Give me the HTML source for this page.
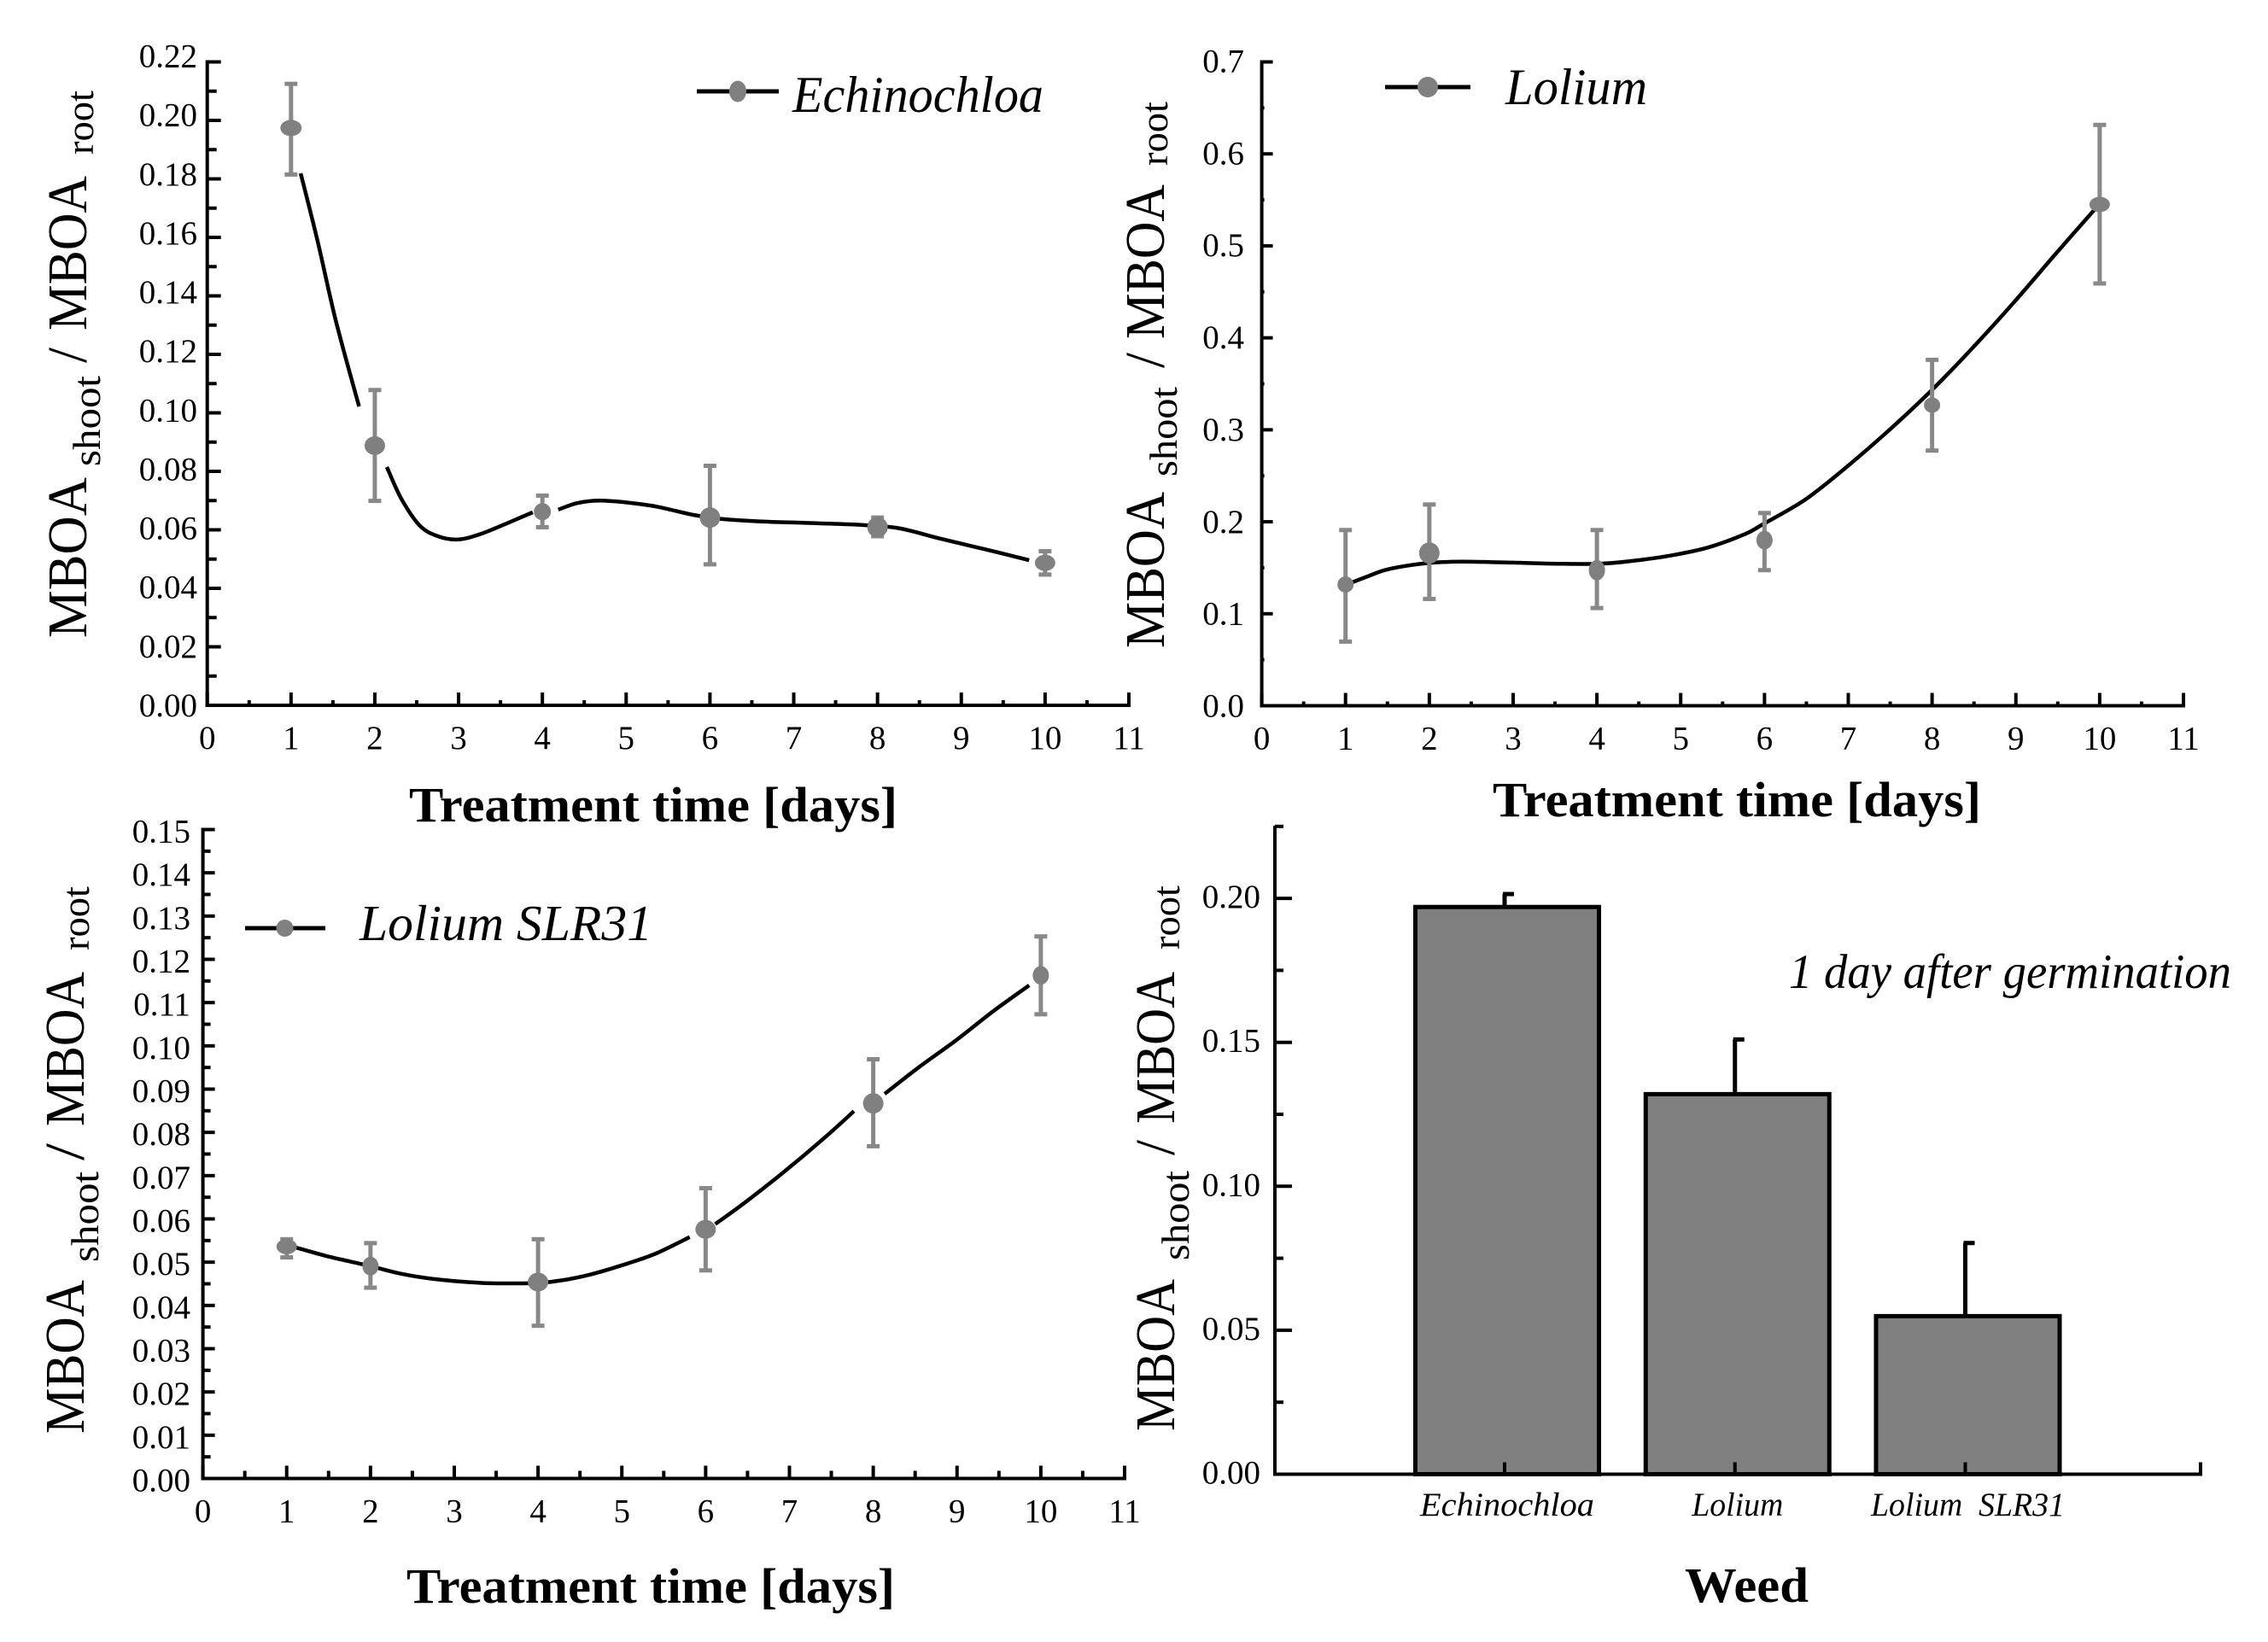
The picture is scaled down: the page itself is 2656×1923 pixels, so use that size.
<!DOCTYPE html>
<html lang="en">
<head>
<meta charset="utf-8">
<title>MBOA shoot / root ratio charts</title>
<style>
html,body{margin:0;padding:0;background:#fff;}
svg{display:block;}
text{font-family:"Liberation Serif",serif;fill:#000;}
.tick{font-size:39px;}
.big{font-size:66px;}
.sub{font-size:45px;}
.xt{font-size:58px;font-weight:bold;}
.leg{font-size:60px;font-style:italic;}
.cat{font-size:39px;font-style:italic;}
</style>
</head>
<body>
<svg id="figure" xmlns="http://www.w3.org/2000/svg" width="2656" height="1923" viewBox="0 0 2656 1923">
  <rect x="0" y="0" width="2656" height="1923" fill="#fff"/>

  <g>
    <text class="big" transform="translate(101,747) rotate(-90)" textLength="188" lengthAdjust="spacingAndGlyphs">MBOA</text>
    <text class="sub" transform="translate(117,546) rotate(-90)" textLength="106" lengthAdjust="spacingAndGlyphs">shoot</text>
    <text class="big" transform="translate(101,425) rotate(-90)" textLength="18" lengthAdjust="spacingAndGlyphs">/</text>
    <text class="big" transform="translate(101,387) rotate(-90)" textLength="181" lengthAdjust="spacingAndGlyphs">MBOA</text>
    <text class="sub" transform="translate(109,181) rotate(-90)" textLength="75" lengthAdjust="spacingAndGlyphs">root</text>
  </g>
  <text class="xt" x="479" y="962" textLength="572" lengthAdjust="spacingAndGlyphs">Treatment time [days]</text>
  <g>
    <line x1="816" y1="107" x2="912" y2="107" stroke="#000" stroke-width="5"/>
    <ellipse cx="864" cy="107" rx="10" ry="12.5" fill="#808080"/>
    <text class="leg" x="928" y="131" textLength="294" lengthAdjust="spacingAndGlyphs">Echinochloa</text>
  </g>

  <g>
    <text class="big" transform="translate(1363,759) rotate(-90)" textLength="183" lengthAdjust="spacingAndGlyphs">MBOA</text>
    <text class="sub" transform="translate(1378,558) rotate(-90)" textLength="105" lengthAdjust="spacingAndGlyphs">shoot</text>
    <text class="big" transform="translate(1363,431) rotate(-90)" textLength="18" lengthAdjust="spacingAndGlyphs">/</text>
    <text class="big" transform="translate(1363,397) rotate(-90)" textLength="181" lengthAdjust="spacingAndGlyphs">MBOA</text>
    <text class="sub" transform="translate(1367,194) rotate(-90)" textLength="75" lengthAdjust="spacingAndGlyphs">root</text>
  </g>
  <text class="xt" x="1748" y="956" textLength="572" lengthAdjust="spacingAndGlyphs">Treatment time [days]</text>
  <g>
    <line x1="1622" y1="102" x2="1722" y2="102" stroke="#000" stroke-width="5"/>
    <ellipse cx="1672" cy="102" rx="12" ry="12" fill="#808080"/>
    <text class="leg" x="1763" y="122" textLength="166" lengthAdjust="spacingAndGlyphs">Lolium</text>
  </g>

  <g>
    <text class="big" transform="translate(98,1679) rotate(-90)" textLength="180" lengthAdjust="spacingAndGlyphs">MBOA</text>
    <text class="sub" transform="translate(115,1478) rotate(-90)" textLength="106" lengthAdjust="spacingAndGlyphs">shoot</text>
    <text class="big" transform="translate(98,1359) rotate(-90)" textLength="20" lengthAdjust="spacingAndGlyphs">/</text>
    <text class="big" transform="translate(98,1319) rotate(-90)" textLength="181" lengthAdjust="spacingAndGlyphs">MBOA</text>
    <text class="sub" transform="translate(104,1113) rotate(-90)" textLength="75" lengthAdjust="spacingAndGlyphs">root</text>
  </g>
  <text class="xt" x="476" y="1877" textLength="572" lengthAdjust="spacingAndGlyphs">Treatment time [days]</text>
  <g>
    <line x1="287" y1="1087" x2="381" y2="1087" stroke="#000" stroke-width="5"/>
    <ellipse cx="333.5" cy="1087" rx="10" ry="10" fill="#808080"/>
    <text class="leg" style="font-size:59px" x="421" y="1101" textLength="343" lengthAdjust="spacingAndGlyphs">Lolium SLR31</text>
  </g>

  <g>
    <text class="big" transform="translate(1375,1676) rotate(-90)" textLength="178" lengthAdjust="spacingAndGlyphs">MBOA</text>
    <text class="sub" transform="translate(1392,1476) rotate(-90)" textLength="105" lengthAdjust="spacingAndGlyphs">shoot</text>
    <text class="big" transform="translate(1375,1353) rotate(-90)" textLength="18" lengthAdjust="spacingAndGlyphs">/</text>
    <text class="big" transform="translate(1375,1316) rotate(-90)" textLength="178" lengthAdjust="spacingAndGlyphs">MBOA</text>
    <text class="sub" transform="translate(1381,1112) rotate(-90)" textLength="75" lengthAdjust="spacingAndGlyphs">root</text>
  </g>
  <text class="xt" x="1973" y="1876" textLength="145" lengthAdjust="spacingAndGlyphs">Weed</text>
  <text class="leg" style="font-size:57px" x="2095" y="1157" textLength="518" lengthAdjust="spacingAndGlyphs">1 day after germination</text>
</svg>

<script>
// ---------- data ----------
const days = [1, 2, 4, 6, 8, 10];

const echinoMean  = [0.1974, 0.0888, 0.0662, 0.0642, 0.0609, 0.0487];
const echinoUpper = [0.2125, 0.1078, 0.0717, 0.0819, 0.0642, 0.0527];
const echinoLower = [0.1815, 0.0699, 0.0609, 0.0482, 0.0578, 0.0447];
const echinoCurveDays  = [1.115, 1.315, 1.533, 1.812, null, 2.143, 2.317, 2.535, 2.753, 2.997, 3.275, 3.624, 3.885, null, 4.19, 4.41, 4.67, 5.02, 5.37, 5.80, 6.11, 6.59, 7.11, 7.72, 8.24, 8.76, 9.29, 9.81];
const echinoCurveRatio = [0.1819, 0.159, 0.1317, 0.1022, null, 0.0815, 0.0706, 0.0615, 0.0578, 0.0567, 0.0587, 0.0628, 0.0660, null, 0.0669, 0.0691, 0.0700, 0.0693, 0.0679, 0.0651, 0.0638, 0.0629, 0.0624, 0.0618, 0.0606, 0.0569, 0.0533, 0.0496];

const loliumMean  = [0.1318, 0.166, 0.1474, 0.18, 0.3268, 0.545];
const loliumUpper = [0.191, 0.2188, 0.191, 0.2095, 0.3761, 0.6315];
const loliumLower = [0.0697, 0.1161, 0.1062, 0.1474, 0.2774, 0.4591];
const loliumCurveDays  = [0.981, 1.259, 1.519, 1.970, 2.387, 2.995, 3.516, 4.036, 4.470, 4.905, 5.339, 5.773, 5.981, 6.467, 6.901, 7.422, 7.969, 8.464, 8.984, 9.505, 9.983];
const loliumCurveRatio = [0.1306, 0.1405, 0.1486, 0.1550, 0.1567, 0.1556, 0.1544, 0.1544, 0.1579, 0.1637, 0.1724, 0.1869, 0.1973, 0.2229, 0.2536, 0.2943, 0.3407, 0.3871, 0.4394, 0.4945, 0.5439];

const slrMean  = [0.0536, 0.0491, 0.0454, 0.0576, 0.0867, 0.1163];
const slrUpper = [0.0553, 0.0544, 0.0553, 0.0671, 0.0969, 0.1253];
const slrLower = [0.0511, 0.0441, 0.0353, 0.0481, 0.0768, 0.1073];
const slrCurveDays  = [1.106, 1.498, 1.995, 2.369, 2.805, 3.328, 3.676, 4.007, 4.286, 4.634, 5.070, 5.418, 5.810, null, 6.115, 6.463, 6.899, 7.422, 7.770, null, 8.136, 8.554, 8.990, 9.425, 9.861];
const slrCurveRatio = [0.0534, 0.0513, 0.0491, 0.0473, 0.0460, 0.0452, 0.0451, 0.0452, 0.0458, 0.0472, 0.0497, 0.0521, 0.0558, null, 0.0588, 0.0637, 0.0703, 0.0788, 0.0849, null, 0.0889, 0.0952, 0.1013, 0.1079, 0.1140];

const xTickLabels = ['0','1','2','3','4','5','6','7','8','9','10','11'];
const echinoYTickLabels = ['0.00','0.02','0.04','0.06','0.08','0.10','0.12','0.14','0.16','0.18','0.20','0.22'];
const loliumYTickLabels = ['0.0','0.1','0.2','0.3','0.4','0.5','0.6','0.7'];
const slrYTickLabels = ['0.00','0.01','0.02','0.03','0.04','0.05','0.06','0.07','0.08','0.09','0.10','0.11','0.12','0.13','0.14','0.15'];

const barCategories = ['Echinochloa', 'Lolium', 'Lolium  SLR31'];
const barValues = [0.197, 0.132, 0.0549];
const barErrors = [0.2015, 0.151, 0.0803];
const barYTickLabels = ['0.00','0.05','0.10','0.15','0.20'];

// ---------- helpers ----------
const svg = document.getElementById('figure');
const NS = 'http://www.w3.org/2000/svg';

function make(tag, attrs, parent) {
  const el = document.createElementNS(NS, tag);
  for (const k in attrs) el.setAttribute(k, attrs[k]);
  parent.appendChild(el);
  return el;
}

function line(parent, x1, y1, x2, y2, color, width) {
  return make('line', {x1: x1, y1: y1, x2: x2, y2: y2, stroke: color, 'stroke-width': width}, parent);
}

function curvePath(xs, ys) {
  // Catmull-Rom through the sampled points; null starts a new stretch
  let d = '';
  let run = [];
  const flush = function () {
    if (run.length < 2) { run = []; return; }
    d += 'M' + run[0][0].toFixed(1) + ' ' + run[0][1].toFixed(1);
    for (let i = 0; i < run.length - 1; i++) {
      const p0 = run[Math.max(i - 1, 0)];
      const p1 = run[i];
      const p2 = run[i + 1];
      const p3 = run[Math.min(i + 2, run.length - 1)];
      d += 'C' + (p1[0] + (p2[0] - p0[0]) / 6).toFixed(1) + ' ' + (p1[1] + (p2[1] - p0[1]) / 6).toFixed(1) +
           ' ' + (p2[0] - (p3[0] - p1[0]) / 6).toFixed(1) + ' ' + (p2[1] - (p3[1] - p1[1]) / 6).toFixed(1) +
           ' ' + p2[0].toFixed(1) + ' ' + p2[1].toFixed(1);
    }
    run = [];
  };
  xs.forEach(function (x, i) {
    if (x === null) { flush(); } else { run.push([x, ys[i]]); }
  });
  flush();
  return d;
}

function drawLinePanel(cfg) {
  const g = make('g', {}, svg);
  
  
  const sx = function (v) { return cfg.x0 + (cfg.x1 - cfg.x0) * v / 11; };
  const sy = function (v) { return cfg.y0 + (cfg.yTop - cfg.y0) * v / cfg.yMax; };

  // axes
  const yAxis = line(g, cfg.x0, cfg.y0 + 2, cfg.x0, cfg.yTop - 2, '#000', 4);
  
  
  const xAxis = line(g, cfg.x0 - 2, cfg.y0, cfg.x1 + 2, cfg.y0, '#000', 4);
  
  

  // x ticks
  xTickLabels.forEach(function (label, i) {
    const t = line(g, sx(i), cfg.y0, sx(i), cfg.y0 - 15, '#000', 4);
    
    
    if (i < 11) {
      const m = line(g, sx(i + 0.5), cfg.y0, sx(i + 0.5), cfg.y0 - cfg.xMinorLen, '#000', 4);
      
      
    }
    const lab = make('text', {x: sx(i), y: cfg.y0 + 51, 'text-anchor': 'middle', 'class': 'tick'}, g);
    lab.textContent = label;
    
    
  });

  // y ticks
  const last = cfg.yLabels.length - 1;
  const step = cfg.yMax / last;
  cfg.yLabels.forEach(function (label, i) {
    const v = step * i;
    const t = line(g, cfg.x0, sy(v), cfg.x0 + cfg.majorLen, sy(v), '#000', 4);
    
    
    if (i < last) {
      const m = line(g, cfg.x0, sy(v + step / 2), cfg.x0 + cfg.minorLen, sy(v + step / 2), '#000', 4);
      
      
    }
    const drop = cfg.labelDropBottom + (cfg.labelDropTop - cfg.labelDropBottom) * i / last;
    const lab = make('text', {x: cfg.labelX, y: sy(v) + drop, 'text-anchor': 'end', 'class': 'tick'}, g);
    lab.textContent = label;
    
    
  });

  // fitted curve
  const path = make('path', {
    d: curvePath(cfg.curveX.map(function (v) { return v === null ? null : sx(v); }),
                 cfg.curveY.map(function (v) { return v === null ? null : sy(v); })),
    fill: 'none', stroke: '#000', 'stroke-width': 4.5
  }, g);
  
  

  // error bars and points
  days.forEach(function (d, i) {
    const x = sx(d);
    const stem = line(g, x, sy(cfg.upper[i]), x, sy(cfg.lower[i]), '#888', 5);
    
    
    const capT = line(g, x - 7.5, sy(cfg.upper[i]), x + 7.5, sy(cfg.upper[i]), '#888', 5);
    
    
    const capB = line(g, x - 7.5, sy(cfg.lower[i]), x + 7.5, sy(cfg.lower[i]), '#888', 5);
    
    
    const pt = make('ellipse', {cx: x, cy: sy(cfg.mean[i]), rx: cfg.rx[i], ry: cfg.ry[i], fill: '#808080'}, g);
    
    
  });
}

drawLinePanel({name: 'echinochloa', x0: 242.7, x1: 1322, y0: 826, yTop: 72.5, yMax: 0.22,
  yLabels: echinoYTickLabels, labelX: 231, majorLen: 16, minorLen: 11, xMinorLen: 6,
  labelDropBottom: 13, labelDropTop: 6,
  rx: [12.5, 12, 10, 12, 12, 12], ry: [9.5, 11, 10, 12, 12, 9.5],
  mean: echinoMean, upper: echinoUpper, lower: echinoLower,
  curveX: echinoCurveDays, curveY: echinoCurveRatio});

drawLinePanel({name: 'lolium', x0: 1477.6, x1: 2557, y0: 826.5, yTop: 72.5, yMax: 0.7,
  yLabels: loliumYTickLabels, labelX: 1457, majorLen: 13, minorLen: 3, xMinorLen: 5,
  labelDropBottom: 13, labelDropTop: 12,
  rx: [9.5, 12, 9.5, 9.5, 9.5, 12], ry: [9.5, 12.5, 12, 11, 9, 9],
  mean: loliumMean, upper: loliumUpper, lower: loliumLower,
  curveX: loliumCurveDays, curveY: loliumCurveRatio});

drawLinePanel({name: 'lolium-slr31', x0: 237.6, x1: 1317, y0: 1731.5, yTop: 971.5, yMax: 0.15,
  yLabels: slrYTickLabels, labelX: 223, majorLen: 14, minorLen: 9, xMinorLen: 9,
  labelDropBottom: 15, labelDropTop: 15,
  rx: [12, 9.5, 12, 12, 12, 9.5], ry: [9, 11, 11, 11, 12, 11],
  mean: slrMean, upper: slrUpper, lower: slrLower,
  curveX: slrCurveDays, curveY: slrCurveRatio});

// ---------- bar panel ----------
(function () {
  const g = make('g', {}, svg);
  
  
  const x0 = 1493, xEnd = 2577, y0 = 1726.5, pxPerUnit = 3372;
  const sy = function (v) { return y0 - v * pxPerUnit; };
  const catX = function (i) { return 1762 + i * 269.75; };
  const labelWidth = [204, 107, 227];

  barCategories.forEach(function (c, i) {
    const cx = catX(i) + 3;
    const top = sy(barValues[i]);
    const stem = line(g, catX(i), top, catX(i), sy(barErrors[i]), '#000', 5);
    
    
    const cap = line(g, catX(i) - 2, sy(barErrors[i]), catX(i) + 11, sy(barErrors[i]), '#000', 5);
    
    
    const bar = make('rect', {x: cx - 107.5, y: top, width: 215, height: y0 - top, fill: '#808080', stroke: '#000', 'stroke-width': 5}, g);
    
    
    const tick = line(g, catX(i), y0, catX(i), y0 - 14, '#000', 4);
    
    
    const lab = make('text', {x: cx - labelWidth[i] / 2, y: 1775, 'class': 'cat', textLength: labelWidth[i], lengthAdjust: 'spacingAndGlyphs'}, g);
    lab.style.whiteSpace = 'pre';
    lab.textContent = c;
    
    
  });

  const yAxis = line(g, x0, y0 + 2, x0, 967, '#000', 4);
  
  
  const xAxis = line(g, x0 - 2, y0, xEnd, y0, '#000', 4);
  
  
  const endTick = line(g, xEnd, y0 + 2, xEnd, y0 - 14, '#000', 4);
  
  

  barYTickLabels.forEach(function (label, i) {
    const v = i * 0.05;
    const t = line(g, x0, sy(v), x0 + 20, sy(v), '#000', 4);
    
    
    const m = line(g, x0, sy(v + 0.025), x0 + 10, sy(v + 0.025), '#000', 4);
    
    
    const lab = make('text', {x: 1476, y: sy(v) + 11, 'text-anchor': 'end', 'class': 'tick'}, g);
    lab.textContent = label;
    
    
  });
})();
</script>
</body>
</html>
